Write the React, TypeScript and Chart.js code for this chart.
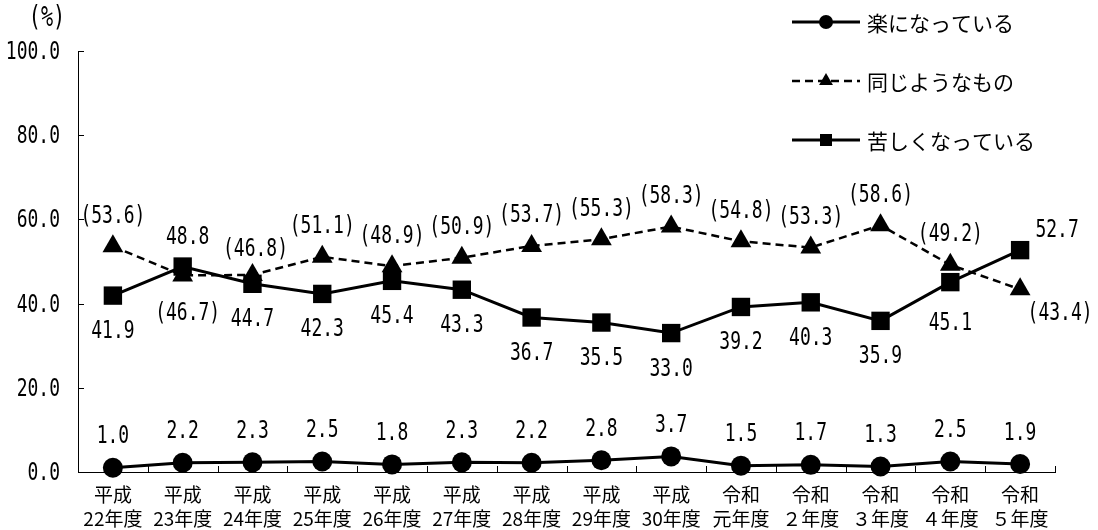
import React, { useEffect, useRef } from 'react';
import { Chart, registerables } from 'chart.js';
import { drawPoint } from 'chart.js/helpers';

Chart.register(...registerables);

// ---- data ----
const categories: string[][] = [
  ['平成', '22年度'], ['平成', '23年度'], ['平成', '24年度'], ['平成', '25年度'],
  ['平成', '26年度'], ['平成', '27年度'], ['平成', '28年度'], ['平成', '29年度'],
  ['平成', '30年度'], ['令和', '元年度'], ['令和', '２年度'], ['令和', '３年度'],
  ['令和', '４年度'], ['令和', '５年度'],
];
const seriesNames = ['楽になっている', '同じようなもの', '苦しくなっている'];
const easier = [1.0, 2.2, 2.3, 2.5, 1.8, 2.3, 2.2, 2.8, 3.7, 1.5, 1.7, 1.3, 2.5, 1.9];
const same = [53.6, 46.7, 46.8, 51.1, 48.9, 50.9, 53.7, 55.3, 58.3, 54.8, 53.3, 58.6, 49.2, 43.4];
const harder = [41.9, 48.8, 44.7, 42.3, 45.4, 43.3, 36.7, 35.5, 33.0, 39.2, 40.3, 35.9, 45.1, 52.7];
const yTicks = [0, 20, 40, 60, 80, 100];
const unitLabel = '(%)';

// ---- label placement (offsets from the point, px) ----
const defaultLabelOffset: [number, number][] = [[0, -32], [0, -31], [0, 35]];
const labelOverrides: Record<string, [number, number]> = {
  '1-1': [5, 37],
  '1-2': [3, -26],
  '1-13': [40, 23],
  '2-1': [5, -30],
  '2-12': [0, 40],
  '2-13': [37, -21],
};

const monoFont = '"DejaVu Sans Mono", "Liberation Mono", monospace';
const jpFont = '"Noto Sans CJK JP", "Noto Sans", sans-serif';

function drawCondensed(
  ctx: CanvasRenderingContext2D, text: string, cx: number, cy: number,
  size = 25, align: CanvasTextAlign = 'center',
) {
  ctx.save();
  ctx.translate(cx, cy);
  ctx.scale(0.72, 1);
  ctx.font = `${size}px ${monoFont}`;
  ctx.fillStyle = '#000';
  ctx.textAlign = align;
  ctx.textBaseline = 'middle';
  ctx.fillText(text, 0, 1);
  ctx.restore();
}

const overlayPlugin = {
  id: 'overlay',
  beforeDatasetsDraw(chart: any) {
    const ctx: CanvasRenderingContext2D = chart.ctx;
    const xs = chart.scales.x;
    const ys = chart.scales.y;
    ctx.save();
    ctx.strokeStyle = '#000';
    ctx.lineWidth = 1;
    // inside tick marks and tick labels of the value axis
    ys.ticks.forEach((t: any) => {
      const py = Math.round(ys.getPixelForValue(t.value)) + 0.5;
      ctx.beginPath();
      ctx.moveTo(xs.left, py);
      ctx.lineTo(xs.left + 6, py);
      ctx.stroke();
      drawCondensed(ctx, Number(t.value).toFixed(1), ys.right - 18, py, 25, 'right');
    });
    const half = (xs.getPixelForValue(1) - xs.getPixelForValue(0)) / 2;
    for (let i = 0; i <= categories.length; i++) {
      const px = Math.round(xs.getPixelForValue(i) - half) + 0.5;
      ctx.beginPath();
      ctx.moveTo(px, ys.bottom);
      ctx.lineTo(px, ys.bottom - 6);
      ctx.stroke();
    }
    ctx.restore();
  },
  afterDatasetsDraw(chart: any) {
    const ctx: CanvasRenderingContext2D = chart.ctx;
    ctx.save();
    // data labels
    chart.data.datasets.forEach((ds: any, di: number) => {
      const meta = chart.getDatasetMeta(di);
      meta.data.forEach((pt: any, i: number) => {
        const v = ds.data[i] as number;
        const txt = di === 1 ? `(${v.toFixed(1)})` : v.toFixed(1);
        const off = labelOverrides[`${di}-${i}`] || defaultLabelOffset[di];
        drawCondensed(ctx, txt, pt.x + off[0], pt.y + off[1]);
      });
    });
    // legend
    const legendYs = [22, 81, 140];
    chart.data.datasets.forEach((ds: any, di: number) => {
      const ly = legendYs[di];
      ctx.save();
      ctx.strokeStyle = '#000';
      ctx.fillStyle = '#000';
      ctx.lineWidth = ds.borderWidth;
      ctx.setLineDash(ds.borderDash || []);
      ctx.beginPath();
      ctx.moveTo(792, ly);
      ctx.lineTo(860, ly);
      ctx.stroke();
      ctx.setLineDash([]);
      drawPoint(ctx, {
        pointStyle: ds.pointStyle,
        radius: ds.legendRadius,
        rotation: 0,
        borderWidth: 0,
      } as any, 826, ly);
      ctx.font = `21px ${jpFont}`;
      ctx.textAlign = 'left';
      ctx.textBaseline = 'middle';
      ctx.fillText(ds.label, 867, ly + 1);
      ctx.restore();
    });
    // unit
    drawCondensed(ctx, unitLabel, 47, 18, 28);
    ctx.restore();
  },
};

export default function App() {
  const canvasRef = useRef<HTMLCanvasElement | null>(null);

  useEffect(() => {
    if (!canvasRef.current) return;
    const common = {
      borderColor: '#000',
      backgroundColor: '#000',
      pointBackgroundColor: '#000',
      pointBorderColor: '#000',
      pointBorderWidth: 0,
      clip: false as any,
      tension: 0,
    };
    const chart = new Chart(canvasRef.current, {
      type: 'line',
      data: {
        labels: categories,
        datasets: [
          { ...common, label: seriesNames[0], data: easier, borderWidth: 3, pointStyle: 'circle', pointRadius: 10, legendRadius: 7 } as any,
          { ...common, label: seriesNames[1], data: same, borderWidth: 2.5, borderDash: [8, 5], pointStyle: 'triangle', pointRadius: 12, legendRadius: 8 } as any,
          { ...common, label: seriesNames[2], data: harder, borderWidth: 3, pointStyle: 'rect', pointRadius: 13, legendRadius: 8.5 } as any,
        ],
      },
      options: {
        animation: false,
        responsive: false,
        devicePixelRatio: 1,
        layout: { padding: { top: 51, right: 43, left: 0, bottom: 0 } },
        plugins: {
          legend: { display: false },
          tooltip: { enabled: false },
        },
        scales: {
          x: {
            type: 'category',
            offset: true,
            grid: { display: false },
            border: { display: true, color: '#000', width: 1 },
            ticks: {
              color: '#000',
              autoSkip: false,
              maxRotation: 0,
              minRotation: 0,
              padding: 3,
              font: { family: jpFont, size: 19, lineHeight: 24 / 19 },
            },
            afterFit: (s: any) => { s.height = 58; },
          },
          y: {
            min: 0,
            max: 100,
            grid: { display: false },
            border: { display: true, color: '#000', width: 1 },
            ticks: {
              display: false,
              stepSize: 20,
            },
            afterFit: (s: any) => { s.width = 78; },
          },
        },
      },
      plugins: [overlayPlugin],
    });
    return () => chart.destroy();
  }, []);

  return (
    <div style={{ position: 'absolute', left: 0, top: 0, width: 1098, height: 530, background: '#fff' }}>
      <canvas ref={canvasRef} width={1098} height={530} style={{ width: 1098, height: 530, display: 'block' }} />
    </div>
  );
}
